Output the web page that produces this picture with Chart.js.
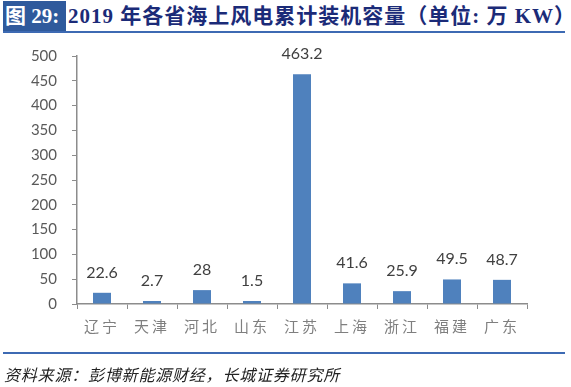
<!doctype html>
<html lang="zh">
<head>
<meta charset="utf-8">
<script src="https://cdn.jsdelivr.net/npm/chart.js"></script>
<style>
  body { margin: 0; background: #fff; }
  #wrap { position: relative; width: 571px; height: 387px; overflow: hidden; }
  #head { position: absolute; left: 3px; top: 1px; width: 562px; height: 30px; border-bottom: 2px solid #3d6ab3; }
  #tag { position: absolute; left: 0; top: 0; width: 63px; height: 30px; background: #2f5a9c; color: #fff;
         font: bold 21px "Liberation Serif", "Noto Sans CJK SC", serif; line-height: 30px; padding-left: 2px; box-sizing: border-box; }
  #title { position: absolute; left: 65px; top: 0; height: 30px; color: #1b2b78; white-space: nowrap;
           font: bold 21px "Liberation Serif", "Noto Sans CJK SC", serif; line-height: 30px; letter-spacing: 1px; }
  #foot { position: absolute; left: 3px; top: 352px; width: 562px; border-top: 2px solid #3d6ab3; }
  #src { position: absolute; left: 4px; top: 362px; font: italic 16px "Noto Sans CJK SC", sans-serif; color: #222; white-space: nowrap; letter-spacing: 0.8px; }
  canvas { position: absolute; left: 0; top: 0; }
</style>
</head>
<body>
<div id="wrap">
  <div id="head">
    <div id="tag">图 29:</div>
    <div id="title">2019 年各省海上风电累计装机容量（单位: 万 KW）</div>
  </div>
  <canvas id="myChart" width="571" height="387"></canvas>
  <div id="foot"></div>
  <div id="src">资料来源：彭博新能源财经，长城证券研究所</div>
</div>
<script>
  // provinces and cumulative offshore wind capacity (10k kW), 2019
  const provinces = ['辽宁', '天津', '河北', '山东', '江苏', '上海', '浙江', '福建', '广东'];
  const capacity = [22.6, 2.7, 28, 1.5, 463.2, 41.6, 25.9, 49.5, 48.7];
  const yMin = 0;
  const yMax = 500;
  const yStep = 50;

  const axisColor = '#8c8c8c';

  // value labels above each bar
  const valueLabels = {
    id: 'valueLabels',
    afterDatasetsDraw(chart) {
      const ctx = chart.ctx;
      const meta = chart.getDatasetMeta(0);
      ctx.save();
      ctx.font = '16px Lato, "Open Sans", sans-serif';
      ctx.fillStyle = '#404040';
      ctx.textAlign = 'center';
      ctx.textBaseline = 'alphabetic';
      meta.data.forEach((bar, i) => {
        ctx.fillText(String(capacity[i]), bar.x, bar.y - 15);
      });
      ctx.restore();
    }
  };

  // spaced-out category labels like the original
  const spacedTicks = {
    id: 'spacedTicks',
    beforeDraw(chart) {
      const sx = chart.scales.x;
      if (!sx || sx._spaced) return;
      const orig = sx.drawLabels;
      sx.drawLabels = function (area) {
        this.ctx.save();
        this.ctx.letterSpacing = '3px';
        orig.call(this, area);
        this.ctx.restore();
      };
      sx._spaced = true;
    }
  };

  const myChart = new Chart(document.getElementById('myChart'), {
    type: 'bar',
    data: {
      labels: provinces,
      datasets: [{
        data: capacity,
        backgroundColor: '#4f81bd',
        borderWidth: 0,
        minBarLength: 3,
        categoryPercentage: 0.36,
        barPercentage: 1
      }]
    },
    plugins: [valueLabels, spacedTicks],
    options: {
      responsive: false,
      animation: false,
      devicePixelRatio: 1,
      layout: { padding: { left: 0, right: 44, top: 56, bottom: 48 } },
      plugins: { legend: { display: false }, tooltip: { enabled: false } },
      scales: {
        x: {
          afterFit(scale) { scale.height = 35; },
          grid: { drawOnChartArea: false, drawTicks: true, tickLength: 5, color: axisColor, offset: true },
          border: { display: true, color: axisColor, width: 1.5 },
          ticks: { color: '#7f7f7f', padding: 8, font: { family: '"Noto Sans CJK SC", sans-serif', size: 15 } }
        },
        y: {
          min: yMin,
          max: yMax,
          afterFit(scale) { scale.width = 77; },
          grid: { drawOnChartArea: false, drawTicks: true, tickLength: 5, color: axisColor },
          border: { display: true, color: axisColor, width: 1.5 },
          ticks: { stepSize: yStep, color: '#595959', padding: 15, font: { family: 'Lato, "Open Sans", sans-serif', size: 15 } }
        }
      }
    }
  });
</script>
</body>
</html>
